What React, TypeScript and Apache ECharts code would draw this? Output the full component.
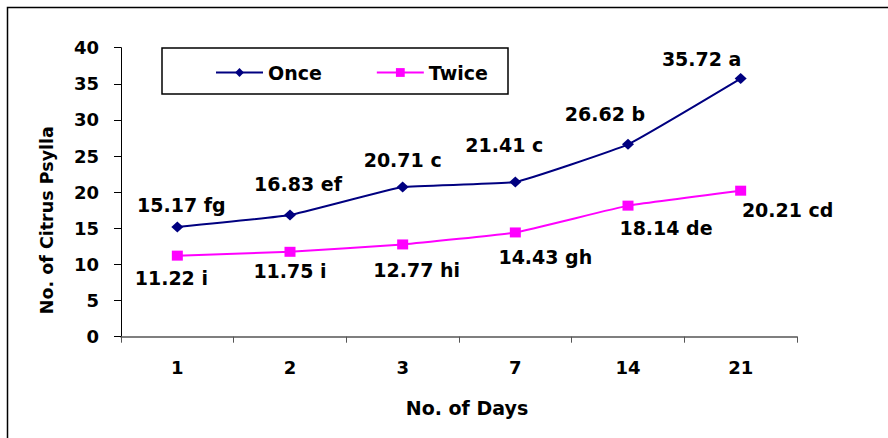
import React, { useEffect, useRef } from "react";
import * as echarts from "echarts";

const days = ["1", "2", "3", "7", "14", "21"];
const onceValues = [15.17, 16.83, 20.71, 21.41, 26.62, 35.72];
const onceLetters = ["fg", "ef", "c", "c", "b", "a"];
const twiceValues = [11.22, 11.75, 12.77, 14.43, 18.14, 20.21];
const twiceLetters = ["i", "i", "hi", "gh", "de", "cd"];
const yTicks = { min: 0, max: 40, interval: 5 };

// label placement offsets (pixels from the marker centre)
const onceOffsets = [[4, -22], [8, -31], [0, -27], [-11, -37], [-23, -30], [-39, -20]];
const twiceOffsets = [[-6, 22], [0, 19], [14, 26], [30, 25], [38, 22], [47, 19]];

const FONT = "DejaVu Sans";

export default function App() {
  const ref = useRef<HTMLDivElement>(null);
  useEffect(() => {
    document.body.style.margin = "0";
    const chart = echarts.init(ref.current!, null, { renderer: "svg" });
    const labelStyle = {
      show: true,
      position: "inside",
      align: "center",
      verticalAlign: "middle",
      fontFamily: FONT,
      fontWeight: "bold",
      fontSize: 19,
      color: "#000",
    };
    const build = (vals: number[], letters: string[], offs: number[][]) =>
      vals.map((v, i) => ({
        value: v,
        label: { ...labelStyle, offset: offs[i], formatter: `${v.toFixed(2)} ${letters[i]}` },
      }));
    chart.setOption({
      animation: false,
      backgroundColor: "#fff",
      grid: { left: 121, right: 91, top: 47.7, bottom: 101.3, containLabel: false },
      legend: {
        left: 210,
        top: 58,
        itemWidth: 47,
        itemHeight: 11,
        itemGap: 54,
        textStyle: { fontFamily: FONT, fontWeight: "bold", fontSize: 19, color: "#000" },
        data: ["Once", "Twice"],
      },
      xAxis: {
        type: "category",
        data: days,
        boundaryGap: true,
        name: "No. of Days",
        nameLocation: "middle",
        nameGap: 62,
        nameTextStyle: { fontFamily: FONT, fontWeight: "bold", fontSize: 19, color: "#000", padding: [0, 0, 0, 16] },
        axisLine: { lineStyle: { color: "#555", width: 1.5 } },
        axisTick: { show: true, length: 6, inside: false, lineStyle: { color: "#555" } },
        axisLabel: { margin: 22, fontFamily: FONT, fontWeight: "bold", fontSize: 18, color: "#000" },
        splitLine: { show: false },
      },
      yAxis: {
        type: "value",
        min: yTicks.min,
        max: yTicks.max,
        interval: yTicks.interval,
        name: "No. of Citrus Psylla",
        nameLocation: "middle",
        nameRotate: 90,
        nameGap: 65,
        nameTextStyle: { fontFamily: FONT, fontWeight: "bold", fontSize: 17.5, color: "#000", padding: [0, 56, 0, 0] },
        axisLine: { show: true, lineStyle: { color: "#000", width: 1 } },
        axisTick: { show: true, length: 7, inside: false, lineStyle: { color: "#000" } },
        axisLabel: { margin: 22, fontFamily: FONT, fontWeight: "bold", fontSize: 18, color: "#000" },
        splitLine: { show: false },
      },
      graphic: [
        {
          type: "rect",
          shape: { x: 7.5, y: 7.5, width: 900, height: 500 },
          style: { fill: "none", stroke: "#000", lineWidth: 1.5 },
          silent: true,
          z: -1,
        },
        {
          type: "rect",
          shape: { x: 162, y: 48, width: 346, height: 46 },
          style: { fill: "none", stroke: "#000", lineWidth: 1.5 },
          silent: true,
        },
      ],
      series: [
        {
          name: "Once",
          type: "line",
          smooth: 0.1,
          data: build(onceValues, onceLetters, onceOffsets),
          symbol: "diamond",
          symbolSize: [12, 11],
          itemStyle: { color: "#000080" },
          lineStyle: { color: "#000080", width: 2 },
        },
        {
          name: "Twice",
          type: "line",
          smooth: 0.1,
          data: build(twiceValues, twiceLetters, twiceOffsets),
          symbol: "rect",
          symbolSize: [11, 10],
          itemStyle: { color: "#FF00FF" },
          lineStyle: { color: "#FF00FF", width: 2 },
        },
      ],
    });
    return () => chart.dispose();
  }, []);
  return <div ref={ref} style={{ width: 888, height: 438 }} />;
}
